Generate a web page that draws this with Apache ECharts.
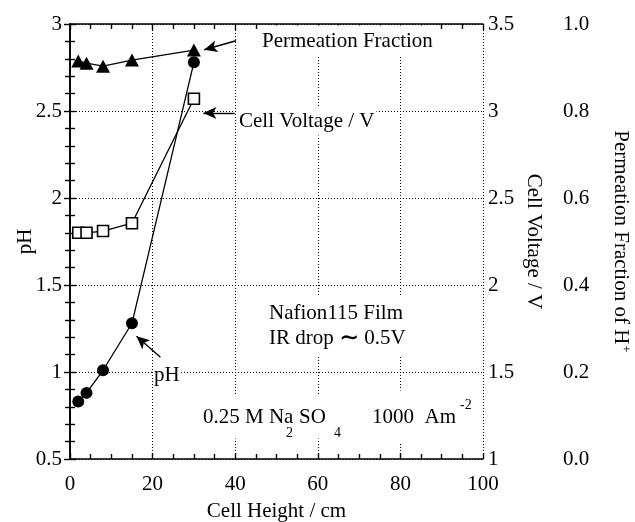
<!DOCTYPE html>
<html>
<head>
<meta charset="utf-8">
<script src="https://cdn.jsdelivr.net/npm/echarts@6/dist/echarts.min.js"></script>
<style>html,body{margin:0;padding:0;background:#fff}#c{width:635px;height:522px}</style>
</head>
<body>
<div id="c"></div>
<script>
// Data
const cellHeight = [2, 4, 8, 15, 30];               // cm
const pHValues = [0.83, 0.88, 1.01, 1.28, 2.78];     // pH (left axis)
const cellVoltage = [2.30, 2.30, 2.31, 2.355, 3.07]; // V (right axis)
const permeationFraction = [0.915, 0.91, 0.903, 0.917, 0.94]; // fraction of H+

const xTicks = [0, 20, 40, 60, 80, 100];
const pHTicks = [0.5, 1, 1.5, 2, 2.5, 3];
const voltTicks = [1, 1.5, 2, 2.5, 3, 3.5];
const fracTicks = [0.0, 0.2, 0.4, 0.6, 0.8, 1.0];

const FONT = 'Liberation Serif';
const chart = echarts.init(document.getElementById('c'), null, {renderer: 'canvas'});

const pairs = (xs, ys) => xs.map((x, i) => [x, ys[i]]);

const axisLineStyle = {show: true, lineStyle: {color: '#000', width: 1.6}};
const labelStyle = {color: '#000', fontFamily: FONT, fontSize: 21};
const gridLine = {show: true, lineStyle: {color: '#000', width: 1, type: [1, 2]}};
const tickStyle = {show: true, inside: true, length: 6, lineStyle: {color: '#000', width: 1.4}};

const option = {
  animation: false,
  backgroundColor: '#fff',
  grid: {left: 70, right: 152, top: 24, bottom: 63, containLabel: false, outerBoundsMode: 'none'},
  xAxis: [
    {
      type: 'value', min: xTicks[0], max: xTicks[xTicks.length - 1], interval: 20,
      position: 'bottom',
      name: 'Cell Height / cm', nameLocation: 'middle', nameGap: 42, nameMoveOverlap: false,
      nameTextStyle: {color: '#000', fontFamily: FONT, fontSize: 21},
      axisLine: axisLineStyle,
      axisTick: tickStyle,
      minorTick: {show: true, splitNumber: 4, length: 5, lineStyle: {color: '#000', width: 1.4}},
      axisLabel: Object.assign({margin: 15}, labelStyle),
      splitLine: gridLine
    },
    {
      type: 'value', min: 0, max: 100, interval: 20, position: 'top',
      axisLine: axisLineStyle,
      axisTick: tickStyle,
      minorTick: {show: true, splitNumber: 4, length: 5, lineStyle: {color: '#000', width: 1.4}},
      axisLabel: {show: false},
      splitLine: {show: false}
    }
  ],
  yAxis: [
    {
      type: 'value', min: pHTicks[0], max: pHTicks[pHTicks.length - 1], interval: 0.5,
      position: 'left',
      name: 'pH', nameLocation: 'middle', nameGap: 34, nameMoveOverlap: false,
      nameTextStyle: {color: '#000', fontFamily: FONT, fontSize: 21},
      axisLine: axisLineStyle,
      axisTick: tickStyle,
      minorTick: {show: true, splitNumber: 5, length: 5, lineStyle: {color: '#000', width: 1.4}},
      axisLabel: Object.assign({margin: 8}, labelStyle),
      splitLine: gridLine
    },
    {
      type: 'value', min: voltTicks[0], max: voltTicks[voltTicks.length - 1], interval: 0.5,
      position: 'right',
      name: 'Cell Voltage / V', nameLocation: 'middle', nameGap: 40, nameRotate: -90, nameMoveOverlap: false,
      nameTextStyle: {color: '#000', fontFamily: FONT, fontSize: 21},
      axisLine: axisLineStyle,
      axisTick: tickStyle,
      minorTick: {show: true, splitNumber: 5, length: 5, lineStyle: {color: '#000', width: 1.4}},
      axisLabel: Object.assign({margin: 5}, labelStyle),
      splitLine: {show: false}
    },
    {
      type: 'value', min: fracTicks[0], max: fracTicks[fracTicks.length - 1], interval: 0.2,
      position: 'right', offset: 72,
      name: 'Permeation Fraction of H{sup|+}', nameLocation: 'middle', nameGap: 54, nameRotate: -90, nameMoveOverlap: false,
      nameTextStyle: {color: '#000', fontFamily: FONT, fontSize: 21,
        rich: {sup: {fontFamily: FONT, fontSize: 13, color: '#000', verticalAlign: 'top', padding: [0, 0, 10, 1]}}},
      axisLine: {show: false},
      axisTick: {show: false},
      axisLabel: Object.assign({margin: 8, formatter: v => v.toFixed(1)}, labelStyle),
      splitLine: {show: false}
    }
  ],
  series: [
    {
      name: 'pH', type: 'line', xAxisIndex: 0, yAxisIndex: 0,
      data: pairs(cellHeight, pHValues),
      symbol: 'circle', symbolSize: 12,
      itemStyle: {color: '#000'},
      lineStyle: {color: '#000', width: 1.3},
      z: 5,
      markLine: {
        silent: true, symbol: ['none', 'arrow'], symbolSize: [9, 13],
        lineStyle: {color: '#000', width: 1.4, type: 'solid'},
        label: {show: false},
        data: [
          [{coord: [40.2, 2.904]}, {coord: [32.5, 2.852]}],
          [{coord: [39.9, 2.489]}, {coord: [32.3, 2.489]}],
          [{coord: [21.9, 1.085]}, {coord: [16.1, 1.205]}]
        ]
      }
    },
    {
      name: 'Cell Voltage', type: 'line', xAxisIndex: 0, yAxisIndex: 1,
      data: pairs(cellHeight, cellVoltage),
      symbol: 'rect', symbolSize: 11,
      itemStyle: {color: '#fff', borderColor: '#000', borderWidth: 1.6},
      lineStyle: {color: '#000', width: 1.3},
      z: 6
    },
    {
      name: 'Permeation Fraction', type: 'line', xAxisIndex: 0, yAxisIndex: 2,
      data: pairs(cellHeight, permeationFraction),
      symbol: 'triangle', symbolSize: [14, 13],
      itemStyle: {color: '#000'},
      lineStyle: {color: '#000', width: 1.3},
      z: 4
    }
  ],
  graphic: [
    {type: 'text', z: 100, style: {text: 'Permeation Fraction', x: 259, y: 41, font: '21px "Liberation Serif"', fill: '#000', verticalAlign: 'middle', backgroundColor: '#fff', padding: [4, 3, 6, 3]}},
    {type: 'text', z: 100, style: {text: 'Cell Voltage / V', x: 237, y: 121, font: '21px "Liberation Serif"', fill: '#000', verticalAlign: 'middle', backgroundColor: '#fff', padding: [4, 2, 4, 2]}},
    {type: 'text', z: 100, style: {text: 'pH', x: 153, y: 375, font: '21px "Liberation Serif"', fill: '#000', verticalAlign: 'middle', backgroundColor: '#fff', padding: [2, 1, 2, 1]}},
    {type: 'text', z: 100, style: {text: 'Nafion115 Film\nIR drop {t|\u223C} 0.5V', x: 267, y: 327, font: '21px "Liberation Serif"', lineHeight: 25, fill: '#000', verticalAlign: 'middle', backgroundColor: '#fff', padding: [4, 6, 6, 2],
      rich: {t: {fontFamily: 'DejaVu Serif', fontSize: 24, fontWeight: 'bold', fill: '#000', lineHeight: 25}}}},
    {type: 'text', z: 100, style: {text: '0.25 M Na', x: 201, y: 417, font: '21px "Liberation Serif"', fill: '#000', verticalAlign: 'middle', backgroundColor: '#fff', padding: [8, 4, 14, 2]}},
    {type: 'text', z: 101, style: {text: 'SO', x: 295, y: 417, font: '21px "Liberation Serif"', fill: '#000', verticalAlign: 'middle', backgroundColor: '#fff', padding: [8, 16, 14, 4]}},
    {type: 'text', z: 102, style: {text: '2', x: 286, y: 433, font: '14px "Liberation Serif"', fill: '#000', verticalAlign: 'middle'}},
    {type: 'text', z: 102, style: {text: '4', x: 334, y: 433, font: '14px "Liberation Serif"', fill: '#000', verticalAlign: 'middle'}},
    {type: 'text', z: 100, style: {text: '1000  Am', x: 370, y: 417, font: '21px "Liberation Serif"', fill: '#000', verticalAlign: 'middle', backgroundColor: '#fff', padding: [16, 14, 16, 2]}},
    {type: 'text', z: 102, style: {text: '-2', x: 460, y: 405, font: '14px "Liberation Serif"', fill: '#000', verticalAlign: 'middle'}}
  ]
};
chart.setOption(option);
</script>
</body>
</html>
